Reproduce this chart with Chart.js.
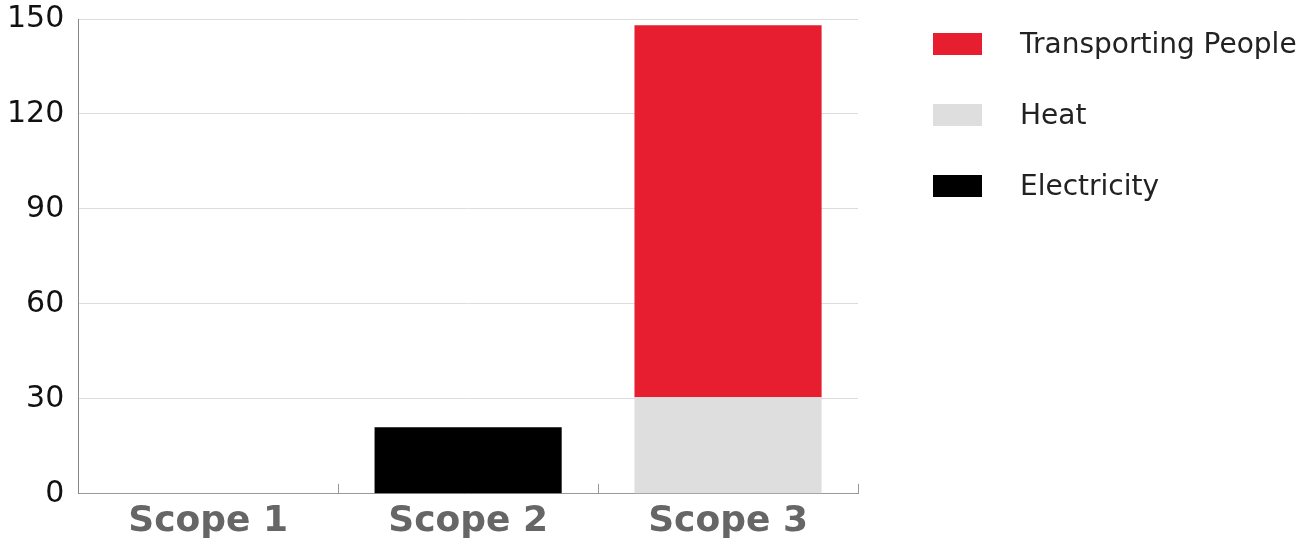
<!DOCTYPE html>
<html>
<head>
<meta charset="utf-8">
<script src="https://cdn.jsdelivr.net/npm/chart.js@4"></script>
<style>
  html, body { margin: 0; padding: 0; background: #fff; }
  #wrap { position: relative; width: 1312px; height: 546px; }
  #legend { position: absolute; left: 933px; top: 8px; font-family: 'DejaVu Sans', sans-serif; font-size: 28px; color: #222; }
  .item { display: flex; align-items: center; height: 71px; white-space: nowrap; }
  .box { width: 49px; height: 22px; margin-right: 38px; }
</style>
</head>
<body>
<div id="wrap">
  <canvas id="chart" width="1312" height="546"></canvas>
  <div id="legend"></div>
</div>
<script>
// Categories and series
const categories = ['Scope 1', 'Scope 2', 'Scope 3'];
const electricity = [0, 21, 0];
const heat = [0, 0, 30.5];
const transport = [0, 0, 117.5];
const yMax = 150;
const yStep = 30;

const seriesNames = ['Electricity', 'Heat', 'Transporting People'];
const seriesColors = ['#000000', '#dedede', '#e61e2f'];

const ctx = document.getElementById('chart').getContext('2d');
const chart = new Chart(ctx, {
    type: 'bar',
    data: {
        labels: categories,
        datasets: [
            { label: seriesNames[0], data: electricity, backgroundColor: seriesColors[0] },
            { label: seriesNames[1], data: heat, backgroundColor: seriesColors[1] },
            { label: seriesNames[2], data: transport, backgroundColor: seriesColors[2] }
        ]
    },
    options: {
        responsive: false,
        animation: false,
        layout: { padding: { left: -7, top: 0, right: 454, bottom: -13 } },
        datasets: {
            bar: { categoryPercentage: 0.8, barPercentage: 0.9, borderWidth: 0 }
        },
        scales: {
            x: {
                stacked: true,
                grid: { offset: true, drawOnChartArea: false, tickLength: -10, color: '#999' },
                border: { color: '#999' },
                ticks: {
                    padding: 16,
                    color: '#666',
                    font: { family: 'DejaVu Sans', size: 36, weight: 'bold' }
                }
            },
            y: {
                stacked: true,
                min: 0,
                max: yMax,
                grid: { color: '#dddddd', drawTicks: false },
                border: { color: '#888' },
                ticks: {
                    stepSize: yStep,
                    padding: 14,
                    color: '#111',
                    font: { family: 'DejaVu Sans', size: 30 }
                },
                // keep the top of the plot close to the canvas edge
                afterFit: function(scale) {
                    scale.paddingTop = 19;
                }
            }
        },
        plugins: {
            legend: { display: false },
            tooltip: { enabled: false }
        }
    }
});

// Legend built from the datasets, top to bottom in stacking order
const legendEl = document.getElementById('legend');
chart.data.datasets.slice().reverse().forEach(ds => {
    const item = document.createElement('div');
    item.className = 'item';
    const box = document.createElement('span');
    box.className = 'box';
    box.style.background = ds.backgroundColor;
    const txt = document.createElement('span');
    txt.textContent = ds.label;
    item.appendChild(box);
    item.appendChild(txt);
    legendEl.appendChild(item);
});
</script>
</body>
</html>
